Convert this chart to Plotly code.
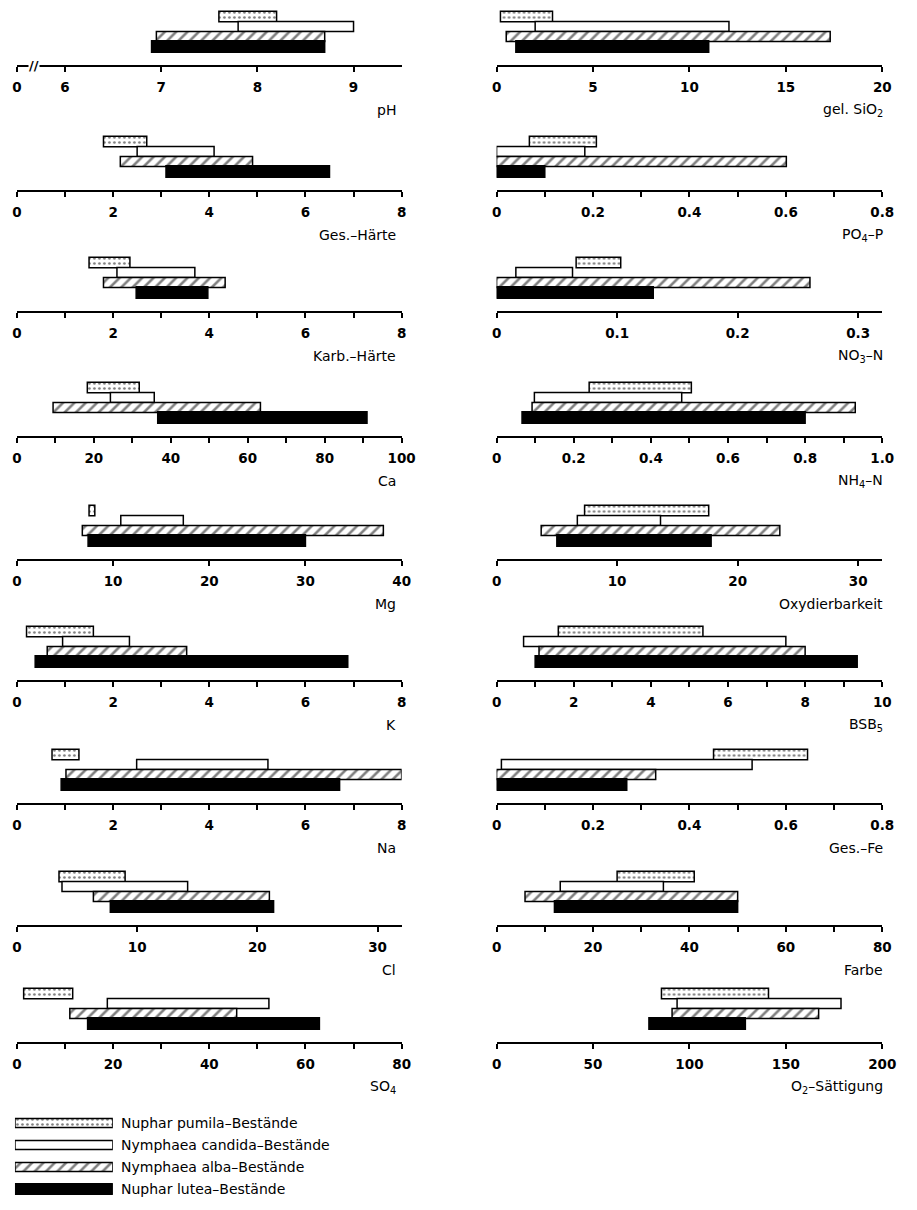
import plotly.graph_objects as go

# page body has an 8px default margin: figure is sized so page = 917 x 1210
OFF = 8
W, H = 917 - 2 * OFF, 1210 - 2 * OFF

SPECIES = ["Nuphar pumila–Bestände", "Nymphaea candida–Bestände",
           "Nymphaea alba–Bestände", "Nuphar lutea–Bestände"]

# ---- data: ranges (low, high) per species: pumila, candida, alba, lutea ----
ph_low = [7.6, 7.8, 6.95, 6.9]
ph_high = [8.2, 9.0, 8.7, 8.7]
sio2_low = [0.2, 2.0, 0.5, 1.0]
sio2_high = [2.9, 12.05, 17.3, 11.0]
gesh_low = [1.8, 2.5, 2.15, 3.1]
gesh_high = [2.7, 4.1, 4.9, 6.5]
po4_low = [0.068, 0.0, 0.0, 0.0]
po4_high = [0.207, 0.183, 0.601, 0.1]
karbh_low = [1.5, 2.08, 1.8, 2.48]
karbh_high = [2.35, 3.7, 4.33, 3.97]
no3_low = [0.066, 0.016, 0.0, 0.0]
no3_high = [0.103, 0.063, 0.26, 0.13]
ca_low = [18.3, 24.3, 9.4, 36.6]
ca_high = [31.8, 35.7, 63.3, 91.0]
nh4_low = [0.24, 0.098, 0.092, 0.066]
nh4_high = [0.505, 0.48, 0.93, 0.80]
mg_low = [7.5, 10.8, 6.8, 7.4]
mg_high = [8.1, 17.3, 38.1, 30.0]
oxy_low = [7.3, 6.7, 3.7, 5.0]
oxy_high = [17.6, 13.6, 23.5, 17.8]
k_low = [0.2, 0.95, 0.63, 0.38]
k_high = [1.59, 2.34, 3.53, 6.88]
bsb_low = [1.6, 0.7, 1.1, 1.0]
bsb_high = [5.35, 7.5, 8.0, 9.35]
na_low = [0.73, 2.49, 1.02, 0.92]
na_high = [1.29, 5.22, 8.0, 6.71]
fe_low = [0.45, 0.01, 0.0, 0.0]
fe_high = [0.645, 0.53, 0.33, 0.27]
cl_low = [3.5, 3.75, 6.36, 7.77]
cl_high = [9.0, 14.2, 21.0, 21.35]
farbe_low = [25.0, 13.2, 5.9, 12.0]
farbe_high = [41.0, 34.6, 50.0, 50.0]
so4_low = [1.4, 18.8, 11.0, 14.7]
so4_high = [11.6, 52.4, 45.7, 62.9]
o2_low = [85.5, 93.6, 91.0, 79.0]
o2_high = [141.0, 178.6, 167.0, 129.0]

# ---- axis ticks (labelled) and minor tick step ----
ph_ticks = [5.5, 6, 7, 8, 9]
ph_labels = ["0", "6", "7", "8", "9"]
sio2_ticks = [0, 5, 10, 15, 20]
h8_ticks = [0, 2, 4, 6, 8]
p08_ticks = [0, 0.2, 0.4, 0.6, 0.8]
p08_labels = ["0", "0.2", "0.4", "0.6", "0.8"]
no3_ticks = [0, 0.1, 0.2, 0.3]
no3_labels = ["0", "0.1", "0.2", "0.3"]
ca_ticks = [0, 20, 40, 60, 80, 100]
nh4_ticks = [0, 0.2, 0.4, 0.6, 0.8, 1.0]
nh4_labels = ["0", "0.2", "0.4", "0.6", "0.8", "1.0"]
mg_ticks = [0, 10, 20, 30, 40]
oxy_ticks = [0, 10, 20, 30]
bsb_ticks = [0, 2, 4, 6, 8, 10]
cl_ticks = [0, 10, 20, 30]
f80_ticks = [0, 20, 40, 60, 80]
o2_ticks = [0, 50, 100, 150, 200]


def lab(v):
    return [str(x) for x in v]


panels = [
    (ph_low, ph_high, "pH", [5.5, 9.5], ph_ticks, ph_labels, None),
    (sio2_low, sio2_high, "gel. SiO<sub>2</sub>", [0, 20], sio2_ticks, lab(sio2_ticks), None),
    (gesh_low, gesh_high, "Ges.–Härte", [0, 8], h8_ticks, lab(h8_ticks), 1),
    (po4_low, po4_high, "PO<sub>4</sub>–P", [0, 0.8], p08_ticks, p08_labels, 0.1),
    (karbh_low, karbh_high, "Karb.–Härte", [0, 8], h8_ticks, lab(h8_ticks), 1),
    (no3_low, no3_high, "NO<sub>3</sub>–N", [0, 0.32], no3_ticks, no3_labels, None),
    (ca_low, ca_high, "Ca", [0, 100], ca_ticks, lab(ca_ticks), 10),
    (nh4_low, nh4_high, "NH<sub>4</sub>–N", [0, 1.0], nh4_ticks, nh4_labels, 0.1),
    (mg_low, mg_high, "Mg", [0, 40], mg_ticks, lab(mg_ticks), None),
    (oxy_low, oxy_high, "Oxydierbarkeit", [0, 32], oxy_ticks, lab(oxy_ticks), None),
    (k_low, k_high, "K", [0, 8], h8_ticks, lab(h8_ticks), 1),
    (bsb_low, bsb_high, "BSB<sub>5</sub>", [0, 10], bsb_ticks, lab(bsb_ticks), 1),
    (na_low, na_high, "Na", [0, 8], h8_ticks, lab(h8_ticks), 1),
    (fe_low, fe_high, "Ges.–Fe", [0, 0.8], p08_ticks, p08_labels, 0.1),
    (cl_low, cl_high, "Cl", [0, 32], cl_ticks, lab(cl_ticks), None),
    (farbe_low, farbe_high, "Farbe", [0, 80], f80_ticks, lab(f80_ticks), 10),
    (so4_low, so4_high, "SO<sub>4</sub>", [0, 80], f80_ticks, lab(f80_ticks), 10),
    (o2_low, o2_high, "O<sub>2</sub>–Sättigung", [0, 200], o2_ticks, lab(o2_ticks), None),
]

# ---- styles ----
YPOS = [3, 2, 1, 0]
BARW = [1.05, 1.0, 1.0, 1.15]
LINE = dict(color="black", width=1.5)
STYLES = [
    dict(color="white", line=LINE,
         pattern=dict(shape=".", fgcolor="black", bgcolor="white", size=5, solidity=0.22)),
    dict(color="white", line=LINE),
    dict(color="white", line=LINE,
         pattern=dict(shape="/", fgcolor="black", bgcolor="white", size=8, solidity=0.32)),
    dict(color="black", line=LINE),
]

AXIS_Y = [65, 190, 311, 436, 559, 680, 803, 925, 1042]   # reference pixel rows
XDOM = [(12, 405), (502, 896)]
TITLE_X = [401, 899]
TICKFONT = dict(family="DejaVu Sans, Liberation Sans, sans-serif", size=13.5,
                color="black", weight="bold")
TEXTFONT = dict(family="DejaVu Sans, Liberation Sans, sans-serif", size=14, color="black")
PANEL_H = 55            # px of bar area above each axis line
Y_BOTTOM = -1.85        # data units (1 unit = 10 px)


def px_x(v):
    return (v - OFF) / W


def px_y(v):
    return min(1.0, max(0.0, 1 - (v - OFF) / H))


fig = go.Figure()
layout = {}
annotations = []

for i, (lo, hi, title, rng, tv, tt, mstep) in enumerate(panels):
    r, c = divmod(i, 2)
    n = i + 1
    xa = "x" if n == 1 else f"x{n}"
    ya = "y" if n == 1 else f"y{n}"
    for s in range(4):
        fig.add_trace(go.Bar(
            orientation="h", y=[YPOS[s]], x=[hi[s] - lo[s]], base=[lo[s]],
            width=[BARW[s]], marker=STYLES[s], xaxis=xa, yaxis=ya,
            showlegend=False, hoverinfo="skip"))
    ay = AXIS_Y[r]
    x0, x1 = XDOM[c]
    xdef = dict(
        domain=[px_x(x0), px_x(x1)], range=rng, anchor=ya,
        tickmode="array", tickvals=tv, ticktext=tt,
        showline=True, linecolor="black", linewidth=2,
        ticks="outside", ticklen=5, tickwidth=2, tickcolor="black",
        showgrid=False, zeroline=False, tickfont=TICKFONT, ticklabelstandoff=4,
        fixedrange=True)
    if mstep:
        xdef["minor"] = dict(tick0=0, dtick=mstep, ticks="outside", ticklen=5,
                             tickwidth=2, tickcolor="black", showgrid=False)
    layout[f"xaxis{'' if n == 1 else n}"] = xdef
    layout[f"yaxis{'' if n == 1 else n}"] = dict(
        domain=[px_y(ay), px_y(ay - PANEL_H)], range=[Y_BOTTOM, Y_BOTTOM + PANEL_H / 10],
        visible=False, anchor=xa, fixedrange=True)
    annotations.append(dict(
        text=title, xref="paper", yref="paper", x=px_x(TITLE_X[c]),
        y=px_y(ay + 45), xanchor="right", yanchor="middle",
        showarrow=False, font=TEXTFONT))

# axis break on pH axis
annotations.append(dict(text="//", xref="x", yref="paper", x=5.68, y=px_y(65),
                        xanchor="center", yanchor="middle", showarrow=False,
                        bgcolor="white", borderpad=0,
                        font=dict(family="DejaVu Sans, Liberation Sans", size=13,
                                  color="black", weight="bold")))

# ---- legend as its own small axis ----
LEG_Y = [3, 2, 1, 0]
LEG_W = [0.4, 0.4, 0.4, 0.48]
leg_len = [1, 1, 1, 1]
for s in range(4):
    fig.add_trace(go.Bar(
        orientation="h", y=[LEG_Y[s]], x=[leg_len[s]], base=[0], width=[LEG_W[s]],
        marker=STYLES[s], xaxis="x19", yaxis="y19", showlegend=False, hoverinfo="skip"))
    annotations.append(dict(text=SPECIES[s], xref="paper", yref="y19",
                            x=px_x(116), y=LEG_Y[s], xanchor="left", yanchor="middle",
                            showarrow=False, font=TEXTFONT))
layout["xaxis19"] = dict(domain=[px_x(10), px_x(110)], range=[0, 1], visible=False,
                         anchor="y19", fixedrange=True)
layout["yaxis19"] = dict(domain=[px_y(1200), px_y(1112)], range=[-0.5, 3.5],
                         visible=False, anchor="x19", fixedrange=True)

fig.update_layout(**layout)
fig.update_layout(
    width=W, height=H, margin=dict(l=0, r=0, t=0, b=0),
    paper_bgcolor="white", plot_bgcolor="white", barmode="overlay",
    showlegend=False, annotations=annotations)

fig.write_html("out.html")
